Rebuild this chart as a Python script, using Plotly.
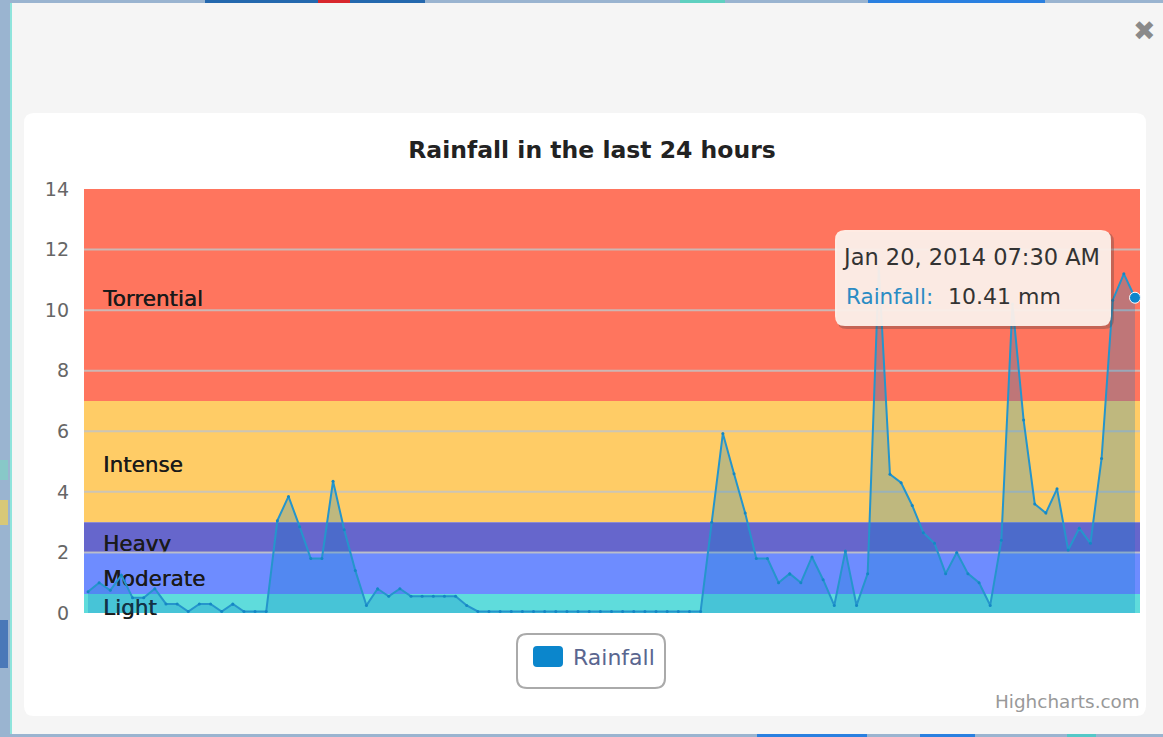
import pandas as pd
import plotly.graph_objects as go

W, H = 1163, 737
PLOT_L, PLOT_R, PLOT_T, PLOT_B = 84, 1140, 189, 613

END_TIME = "2014-01-20 07:30"
STEP_MIN = 15
RAINFALL = [
    0.7, 1.0, 0.75, 1.25, 0.5, 0.5, 0.8, 0.3, 0.3, 0.05, 0.3, 0.3, 0.05, 0.3, 0.05, 0.05, 0.05,
    3.05, 3.85, 2.85, 1.8, 1.8, 4.35, 2.75, 1.4, 0.25, 0.8, 0.55, 0.8, 0.55, 0.55, 0.55, 0.55, 0.55,
    0.25, 0.05, 0.05, 0.05, 0.05, 0.05, 0.05, 0.05, 0.05, 0.05, 0.05, 0.05, 0.05, 0.05, 0.05, 0.05,
    0.05, 0.05, 0.05, 0.05, 0.05, 0.05, 3.0, 5.93, 4.6, 3.3, 1.8, 1.8, 1.0, 1.3, 1.0, 1.85, 1.1, 0.25,
    2.05, 0.25, 1.3, 11.4, 4.58, 4.3, 3.55, 2.65, 2.3, 1.3, 2.0, 1.3, 1.0, 0.25, 2.4, 10.2, 6.37,
    3.6, 3.3, 4.1, 2.08, 2.8, 2.3, 5.1, 10.33, 11.2, 10.41,
]
BAND_NAMES = ["Torrential", "Intense", "Heavy", "Moderate", "Light"]
BAND_LOW = [7, 3, 2, 0.63, 0]
BAND_HIGH = [14, 7, 3, 2, 0.63]
BAND_LABEL_Y = [10.3, 4.83, 2.23, 1.06, 0.12]
BAND_COLORS = ["#FF755E", "#FFCC66", "#6666CC", "#6E8CFF", "#5FDCDC"]
Y_TICKS = [0, 2, 4, 6, 8, 10, 12, 14]

times = pd.date_range(end=END_TIME, periods=len(RAINFALL), freq=f"{STEP_MIN}min")
x0 = times[0] - pd.Timedelta(minutes=STEP_MIN * 0.36)
x1 = times[-1] + pd.Timedelta(minutes=STEP_MIN * 0.45)
label_x = times[0] + pd.Timedelta(minutes=STEP_MIN * 1.35)

FONT = "DejaVu Sans, sans-serif"
DARK = "#1A1A1A"
fig = go.Figure()

for name, lo, hi, ly, col in zip(BAND_NAMES, BAND_LOW, BAND_HIGH, BAND_LABEL_Y, BAND_COLORS):
    fig.add_trace(go.Scatter(x=[x0, x1, x1, x0], y=[lo, lo, hi, hi], mode="none", fill="toself",
                             fillcolor=col, hoverinfo="skip", showlegend=False))
    fig.add_trace(go.Scatter(x=[label_x], y=[ly], mode="text", text=[name], textposition="middle right",
                             textfont=dict(family=FONT, size=21.5, color=DARK, shadow="0.4px 0 0 #1A1A1A"),
                             cliponaxis=False, hoverinfo="skip", showlegend=False))

grid_x, grid_y = [], []
for t in Y_TICKS[1:-1]:
    grid_x += [x0, x1, None]
    grid_y += [t, t, None]
fig.add_trace(go.Scatter(x=grid_x, y=grid_y, mode="lines", line=dict(color="rgba(195,195,195,0.85)", width=2),
                         hoverinfo="skip", showlegend=False))

fig.add_trace(go.Scatter(x=times, y=RAINFALL, name="Rainfall", mode="lines+markers", fill="tozeroy",
                         fillcolor="rgba(0,125,200,0.25)", line=dict(color="#2595CC", width=2),
                         marker=dict(size=3, color="#1487C4"), showlegend=False,
                         hovertemplate="%{x|%b %d, %Y %I:%M %p}<br>Rainfall: %{y} mm<extra></extra>"))
fig.add_trace(go.Scatter(x=[times[-1]], y=[RAINFALL[-1]], mode="markers", cliponaxis=False,
                         marker=dict(size=11, color="#0B86CC", line=dict(color="#FFFFFF", width=1)),
                         hoverinfo="skip", showlegend=False))


def px(v):
    return (v - PLOT_L) / (PLOT_R - PLOT_L)


def py(v):
    return (PLOT_B - v) / (PLOT_B - PLOT_T)


def rect(a, b, c, d, color, layer="below"):
    fig.add_shape(type="rect", xref="paper", yref="paper", x0=px(a), x1=px(b), y0=py(c), y1=py(d),
                  fillcolor=color, line_width=0, layer=layer)


def round_rect(a, b, c, d, r, fill, line=None, lw=0, layer="below"):
    p = (f"M {px(a + r)} {py(c)} L {px(b - r)} {py(c)} Q {px(b)} {py(c)} {px(b)} {py(c + r)} "
         f"L {px(b)} {py(d - r)} Q {px(b)} {py(d)} {px(b - r)} {py(d)} L {px(a + r)} {py(d)} "
         f"Q {px(a)} {py(d)} {px(a)} {py(d - r)} L {px(a)} {py(c + r)} Q {px(a)} {py(c)} {px(a + r)} {py(c)} Z")
    fig.add_shape(type="path", xref="paper", yref="paper", path=p, fillcolor=fill,
                  line=dict(color=line or "rgba(0,0,0,0)", width=lw), layer=layer)


# Backdrop map fragments around the modal
for a, b, c, d, col in [
    (205, 425, 0, 3, "#2468AE"), (318, 350, 0, 3, "#D8262C"), (680, 725, 0, 3, "#5FD0C0"),
    (868, 1045, 0, 3, "#2A80E0"), (757, 867, 734, 737, "#2A80E0"), (920, 975, 734, 737, "#2A80E0"),
    (1067, 1096, 734, 737, "#55C8C8"), (0, 8, 620, 668, "#4A78B8"), (0, 8, 500, 525, "#D8C878"),
    (0, 8, 460, 480, "#88C8C8"),
]:
    rect(a, b, c, d, col)
rect(10, 12, 3, 734, "#8FE4DC")
rect(12, W, 3, 734, "#F5F5F5")
round_rect(24, 1146, 113, 716, 10, "#FFFFFF")

# Tooltip
round_rect(837, 1114, 232, 329, 10, "rgba(90,70,70,0.35)", layer="above")
round_rect(835, 1111, 230, 326, 10, "rgba(255,244,238,0.93)", layer="above")
# Legend
round_rect(517, 665, 634, 688, 10, "#FFFFFF", "#AAAAAA", 2)
round_rect(533, 563, 646, 667, 4, "#0B86CC")


def note(text, x, y, size, color, xanchor="left", weight=None, family=FONT):
    fig.add_annotation(text=text, xref="paper", yref="paper", x=px(x), y=py(y), showarrow=False,
                       xanchor=xanchor, yanchor="middle", xshift=0,
                       font=dict(family=family, size=size, color=color, weight=weight))


note("Jan 20, 2014 07:30 AM", 840, 257, 22.5, "#333333")
note("Rainfall:", 844, 296, 21.5, "#2B8CC4")
note("10.41 mm", 946, 296, 22, "#333333")
note("Rainfall", 571, 657, 22, "#5A6690")
note("Highcharts.com", 1142, 701, 18.4, "#999999", xanchor="right")
note("✖", 1144, 30, 27, "#8A8A8A", xanchor="center", family="DejaVu Sans")

fig.update_layout(
    width=W, height=H, autosize=False,
    margin=dict(l=PLOT_L, r=W - PLOT_R, t=PLOT_T, b=H - PLOT_B, pad=0),
    paper_bgcolor="#9AB4D0", plot_bgcolor="rgba(0,0,0,0)",
    title=dict(text="<b>Rainfall in the last 24 hours</b>", xref="container", yref="container",
               x=592 / W, y=1 - 150 / H, xanchor="center", yanchor="middle",
               font=dict(family=FONT, size=23.5, color="#222222")),
    xaxis=dict(range=[x0, x1], visible=False, showgrid=False),
    yaxis=dict(range=[0, 14], tickvals=Y_TICKS, ticks="", showgrid=False, zeroline=False, showline=False,
               ticklabelstandoff=14, tickfont=dict(family=FONT, size=19, color="#666666")),
    showlegend=False,
)
fig.write_html("out.html", config={"displayModeBar": False},
               post_script="document.body.style.margin='0';document.body.style.overflow='hidden';")
